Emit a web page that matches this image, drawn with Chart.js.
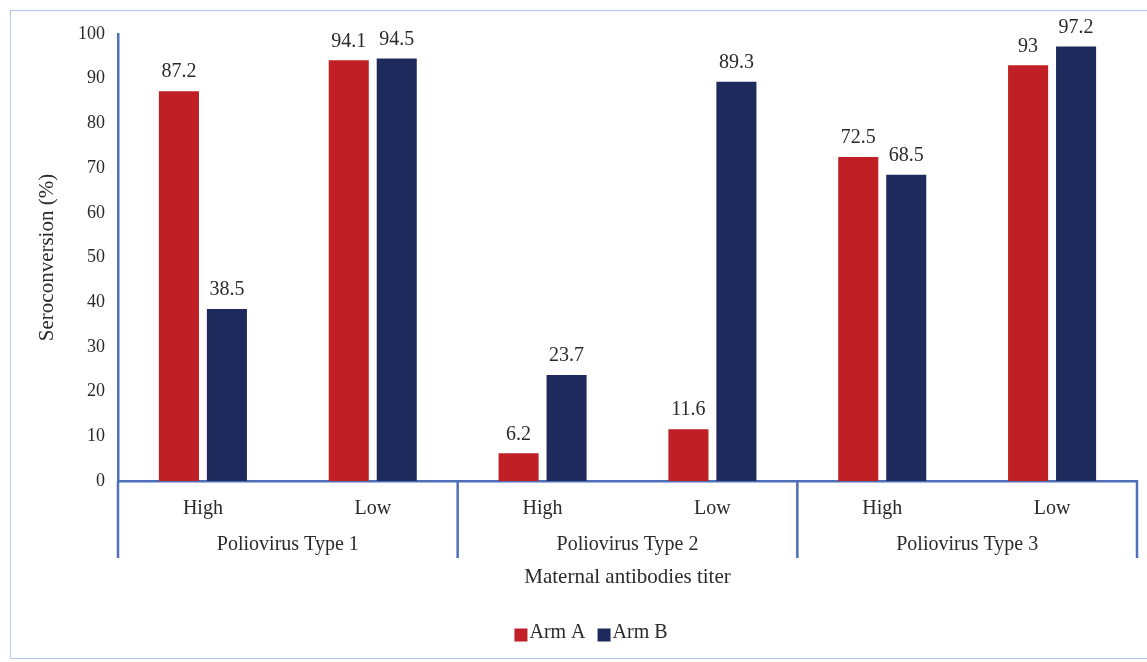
<!DOCTYPE html>
<html>
<head>
<meta charset="utf-8">
<script src="https://cdn.jsdelivr.net/npm/chart.js@4.4.1/dist/chart.umd.min.js"></script>
<style>
  html, body { margin: 0; padding: 0; background: #fff; }
  #wrap { position: relative; width: 1147px; height: 662px; overflow: hidden; }
  #frame { position: absolute; left: 10px; top: 10px; width: 1160px; height: 649px;
           border: 1.5px solid #b4c6ea; box-sizing: border-box; }
  canvas { position: absolute; left: 0; top: 0; }
</style>
</head>
<body>
<div id="wrap">
  <div id="frame"></div>
  <canvas id="chart" width="1147" height="662"></canvas>
</div>
<script>
// Titer levels within each poliovirus type, and the type groups they belong to
const titerLabels = ["High", "Low", "High", "Low", "High", "Low"];
const virusGroups = ["Poliovirus Type 1", "Poliovirus Type 2", "Poliovirus Type 3"];
const seriesNames = ["Arm A", "Arm B"];

// Seroconversion (%) per arm
const armA = [87.2, 94.1, 6.2, 11.6, 72.5, 93];
const armB = [38.5, 94.5, 23.7, 89.3, 68.5, 97.2];

const yTicks = [0, 10, 20, 30, 40, 50, 60, 70, 80, 90, 100];

const FONT = "'Liberation Serif', 'DejaVu Serif', serif";
const AXIS_BLUE = "#4f6fb8";
const TEXT = "#2a2a2a";

// Draws value labels over bars, the group separators, group names, axis title and legend
const annotate = {
  id: "annotate",
  afterDatasetsDraw(chart) {
    const ctx = chart.ctx;
    ctx.save();
    ctx.font = "20px " + FONT;
    ctx.fillStyle = TEXT;
    ctx.textAlign = "center";
    ctx.textBaseline = "bottom";
    chart.data.datasets.forEach((ds, di) => {
      chart.getDatasetMeta(di).data.forEach((bar, i) => {
        ctx.fillText(String(ds.data[i]), bar.x, bar.y - 9);
      });
    });

    const x = chart.scales.x;
    const area = chart.chartArea;
    const n = titerLabels.length;
    const bounds = [];
    for (let g = 0; g <= virusGroups.length; g++) {
      const idx = g * 2;
      let px;
      if (idx === 0) px = area.left;
      else if (idx >= n) px = area.right;
      else px = (x.getPixelForValue(idx - 1) + x.getPixelForValue(idx)) / 2;
      bounds.push(px);
    }
    ctx.strokeStyle = AXIS_BLUE;
    ctx.lineWidth = 2.5;
    bounds.forEach(px => {
      ctx.beginPath();
      ctx.moveTo(px, area.bottom);
      ctx.lineTo(px, area.bottom + 77);
      ctx.stroke();
    });

    ctx.textBaseline = "middle";
    virusGroups.forEach((name, g) => {
      ctx.fillText(name, (bounds[g] + bounds[g + 1]) / 2, area.bottom + 64);
    });
    ctx.font = "21px " + FONT;
    ctx.fillText("Maternal antibodies titer", (area.left + area.right) / 2, area.bottom + 96);

    // legend: square swatch sitting right against its label
    ctx.font = "20px " + FONT;
    const box = 13, gapText = 2, gapItem = 12;
    const items = chart.data.datasets.map(ds => ({
      color: ds.backgroundColor, text: ds.label, w: box + gapText + ctx.measureText(ds.label).width
    }));
    const total = items.reduce((s, it) => s + it.w, 0) + gapItem * (items.length - 1);
    let lx = 591 - total / 2;
    const ly = 633;
    ctx.textAlign = "left";
    items.forEach(it => {
      ctx.fillStyle = it.color;
      ctx.fillRect(lx, ly - box / 2 + 2, box, box);
      ctx.fillStyle = TEXT;
      ctx.fillText(it.text, lx + box + gapText, ly);
      lx += it.w + gapItem;
    });
    ctx.restore();
  }
};

new Chart(document.getElementById("chart"), {
  type: "bar",
  data: {
    labels: titerLabels,
    datasets: [
      { label: seriesNames[0], data: armA, backgroundColor: "#c01f26", borderWidth: 0 },
      { label: seriesNames[1], data: armB, backgroundColor: "#1f2a5c", borderWidth: 0 }
    ]
  },
  options: {
    responsive: false,
    animation: false,
    devicePixelRatio: 1,
    categoryPercentage: 0.565,
    barPercentage: 0.835,
    layout: { padding: { left: 0, top: 34, right: 10, bottom: 0 } },
    plugins: {
      tooltip: { enabled: false },
      legend: { display: false }
    },
    scales: {
      x: {
        grid: { display: false, drawTicks: false },
        border: { color: AXIS_BLUE, width: 2.5 },
        ticks: { font: { family: FONT, size: 20 }, color: TEXT, padding: 16, maxRotation: 0 },
        afterFit(scale) { scale.height = 181; }
      },
      y: {
        min: 0,
        max: 100,
        afterBuildTicks(scale) { scale.ticks = yTicks.map(v => ({ value: v })); },
        grid: { display: false, drawTicks: false },
        border: { color: AXIS_BLUE, width: 2.5 },
        ticks: { font: { family: FONT, size: 18 }, color: TEXT, padding: 13 },
        title: {
          display: true,
          text: "Seroconversion (%)",
          font: { family: FONT, size: 21 },
          color: TEXT,
          padding: { top: 35, bottom: 0 }
        },
        afterFit(scale) { scale.width = 118; }
      }
    }
  },
  plugins: [annotate]
});
</script>
</body>
</html>
